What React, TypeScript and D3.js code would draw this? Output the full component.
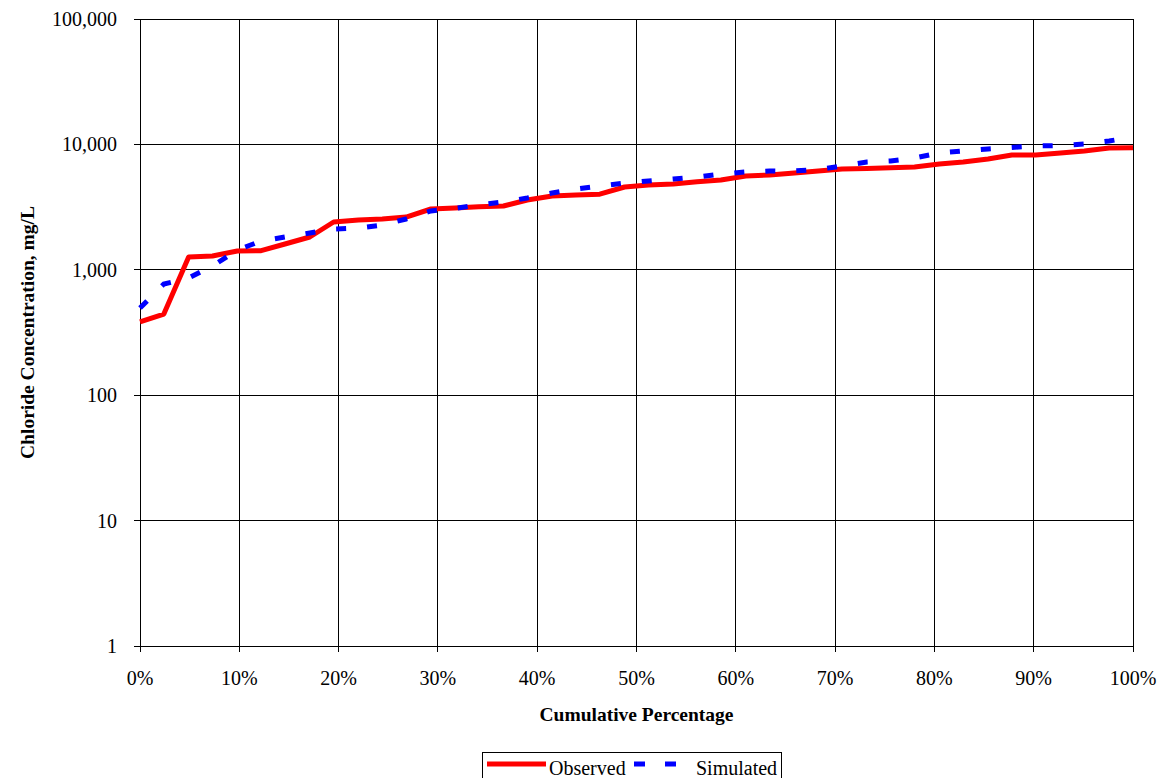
import React, { useEffect, useRef } from "react";
import * as d3 from "d3";

// DATA
const cumulativePct = [
  0, 2.4, 4.9, 7.3, 9.8, 12.2, 14.6, 17.1, 19.5, 22.0, 24.4, 26.8, 29.3, 31.7,
  34.1, 36.6, 39.0, 41.5, 43.9, 46.3, 48.8, 51.2, 53.7, 56.1, 58.5, 61.0, 63.4,
  65.9, 68.3, 70.7, 73.2, 75.6, 78.0, 80.5, 82.9, 85.4, 87.8, 90.2, 92.7, 95.1,
  97.6, 100,
];
const observed = [
  384, 444, 1265, 1290, 1413, 1420, 1606, 1826, 2405, 2495, 2540, 2636, 3054,
  3110, 3180, 3228, 3603, 3879, 3950, 4010, 4573, 4746, 4830, 5030, 5200, 5600,
  5700, 5915, 6137, 6365, 6420, 6500, 6600, 6980, 7240, 7650, 8230, 8230, 8540,
  8860, 9360, 9400,
];
const simulated = [
  496, 770, 860, 1072, 1438, 1697, 1826, 1965, 2115, 2155, 2277, 2541, 2944,
  3090, 3288, 3474, 3739, 4096, 4408, 4660, 4922, 5107, 5300, 5495, 5807, 6025,
  6137, 6137, 6310, 6730, 7240, 7380, 7790, 8540, 8860, 9190, 9450, 9710, 9800,
  10070, 10640, 11460,
];
const yTicks = [1, 10, 100, 1000, 10000, 100000];
const xTicks = [0, 10, 20, 30, 40, 50, 60, 70, 80, 90, 100];

export default function App() {
  const ref = useRef<SVGSVGElement | null>(null);

  useEffect(() => {
    const svg = d3.select(ref.current);
    svg.selectAll("*").remove();

    // PLOT AREA
    const left = 140;
    const right = 1133;
    const top = 19;
    const bottom = 646;
    const font = "'Liberation Serif', 'Times New Roman', serif";

    const xScale = d3.scaleLinear().domain([0, 100]).range([left, right]);
    const yScale = d3.scaleLog().domain([1, 100000]).range([bottom, top]);

    // GRID
    const grid = svg.append("g").attr("shape-rendering", "crispEdges");
    grid
      .selectAll("line.h")
      .data(yTicks)
      .join("line")
      .attr("x1", left - 6)
      .attr("x2", right)
      .attr("y1", (d) => yScale(d))
      .attr("y2", (d) => yScale(d))
      .attr("stroke", "#000")
      .attr("stroke-width", 1);
    grid
      .selectAll("line.v")
      .data(xTicks)
      .join("line")
      .attr("x1", (d) => xScale(d))
      .attr("x2", (d) => xScale(d))
      .attr("y1", top)
      .attr("y2", bottom + 6)
      .attr("stroke", "#000")
      .attr("stroke-width", 1);

    // Y TICK LABELS
    svg
      .append("g")
      .selectAll("text")
      .data(yTicks)
      .join("text")
      .attr("x", left - 23)
      .attr("y", (d) => yScale(d))
      .attr("dy", "0.35em")
      .attr("text-anchor", "end")
      .attr("font-family", font)
      .attr("font-size", 20)
      .text((d) => d3.format(",")(d));

    // X TICK LABELS
    svg
      .append("g")
      .selectAll("text")
      .data(xTicks)
      .join("text")
      .attr("x", (d) => xScale(d))
      .attr("y", bottom + 39)
      .attr("text-anchor", "middle")
      .attr("font-family", font)
      .attr("font-size", 20)
      .text((d) => d + "%");

    // AXIS TITLES
    svg
      .append("text")
      .attr("x", (left + right) / 2)
      .attr("y", 721)
      .attr("text-anchor", "middle")
      .attr("font-family", font)
      .attr("font-size", 19.5)
      .attr("font-weight", "bold")
      .text("Cumulative Percentage");
    svg
      .append("text")
      .attr("transform", `translate(34,${(top + bottom) / 2}) rotate(-90)`)
      .attr("text-anchor", "middle")
      .attr("font-family", font)
      .attr("font-size", 19.5)
      .attr("font-weight", "bold")
      .text("Chloride Concentration, mg/L");

    // LINES
    const line = d3
      .line<number>()
      .x((_, i) => xScale(cumulativePct[i]))
      .y((d) => yScale(d));

    svg
      .append("path")
      .datum(observed)
      .attr("fill", "none")
      .attr("stroke", "#ff0000")
      .attr("stroke-width", 5)
      .attr("stroke-linejoin", "round")
      .attr("d", line);

    svg
      .append("path")
      .datum(simulated)
      .attr("fill", "none")
      .attr("stroke", "#0000ff")
      .attr("stroke-width", 5)
      .attr("stroke-dasharray", "10,21")
      .attr("d", line);

    // LEGEND
    const legend = svg.append("g");
    legend
      .append("rect")
      .attr("x", 482.5)
      .attr("y", 752.5)
      .attr("width", 299)
      .attr("height", 34)
      .attr("fill", "#fff")
      .attr("stroke", "#000")
      .attr("stroke-width", 1);
    legend
      .append("line")
      .attr("x1", 487)
      .attr("x2", 546)
      .attr("y1", 764)
      .attr("y2", 764)
      .attr("stroke", "#ff0000")
      .attr("stroke-width", 5);
    legend
      .append("text")
      .attr("x", 549)
      .attr("y", 775)
      .attr("font-family", font)
      .attr("font-size", 20)
      .text("Observed");
    legend
      .append("line")
      .attr("x1", 634)
      .attr("x2", 677)
      .attr("y1", 764)
      .attr("y2", 764)
      .attr("stroke", "#0000ff")
      .attr("stroke-width", 5)
      .attr("stroke-dasharray", "11,20");
    legend
      .append("text")
      .attr("x", 696)
      .attr("y", 775)
      .attr("font-family", font)
      .attr("font-size", 20)
      .text("Simulated");
  }, []);

  return (
    <svg
      ref={ref}
      width={1164}
      height={778}
      style={{ position: "absolute", left: 0, top: 0, background: "#fff" }}
    />
  );
}
